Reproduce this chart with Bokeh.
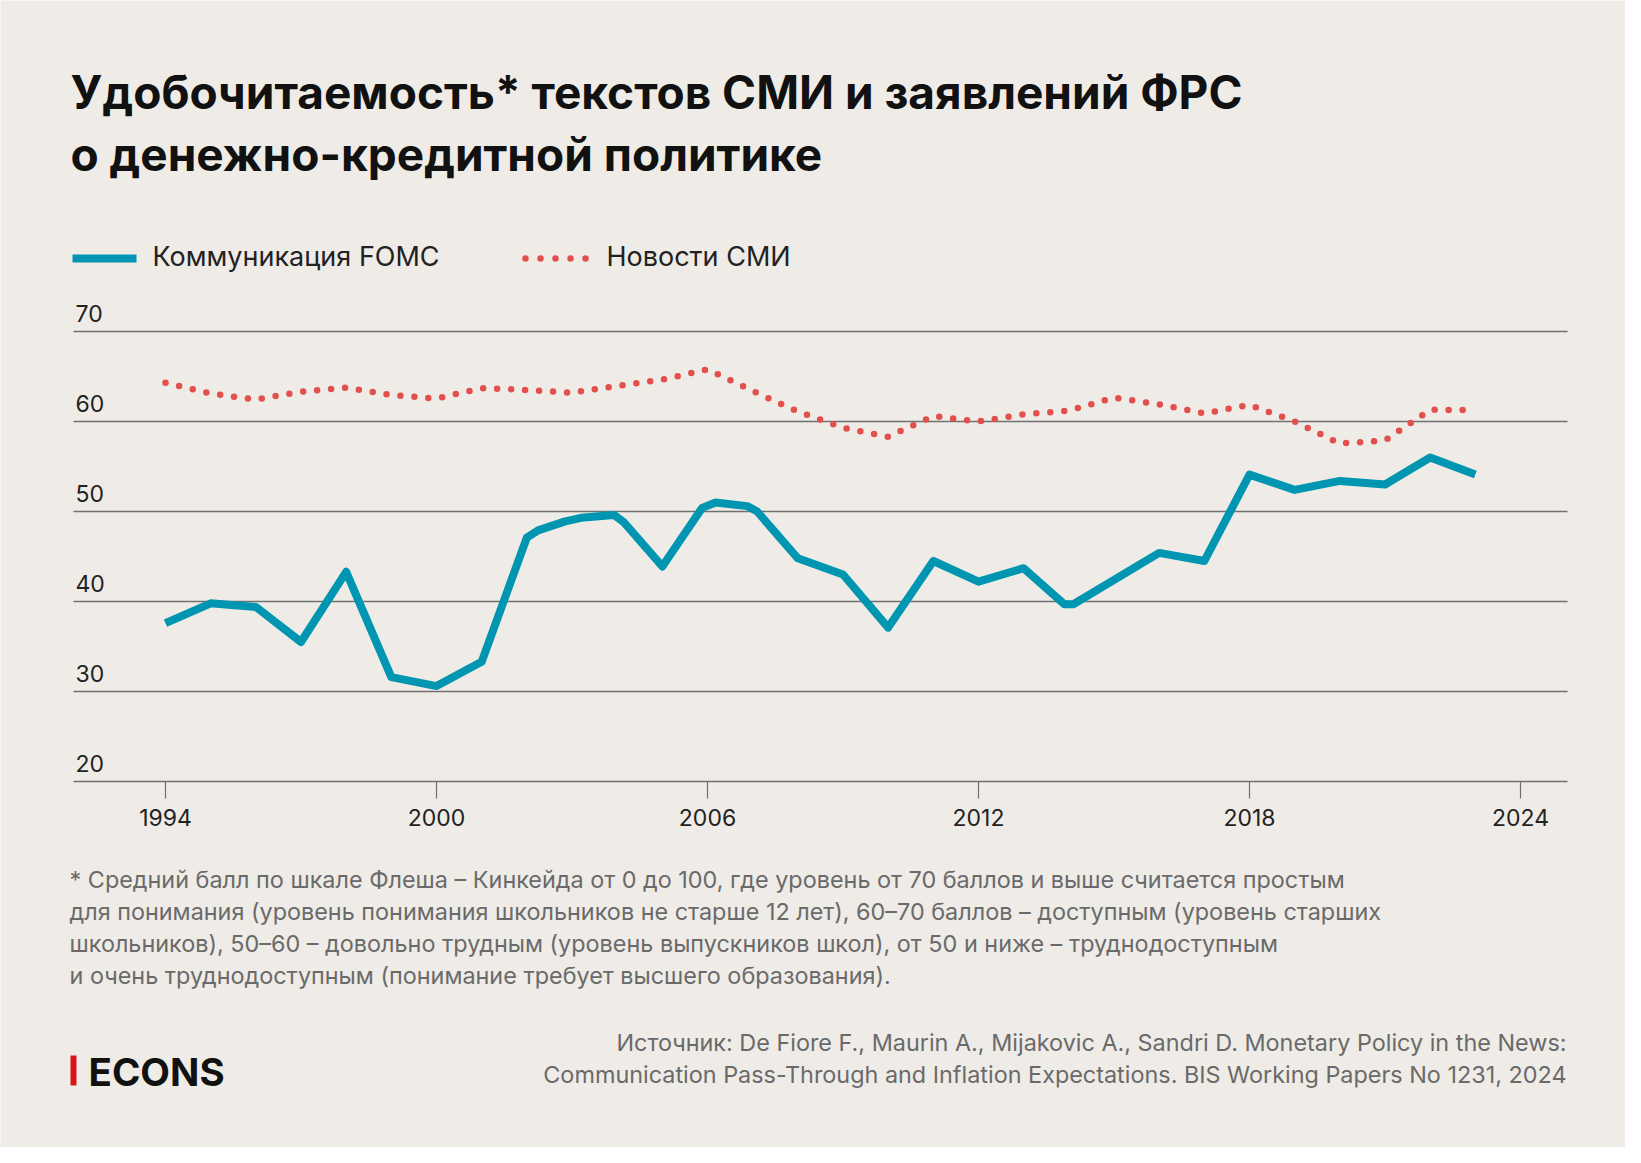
from bokeh.plotting import figure
from bokeh.models import Range1d, Label
from bokeh.core.properties import value
from bokeh.embed import file_html
from bokeh.resources import INLINE

# ---------------- data ----------------
fomc_years = [1994, 1995, 1996, 1997, 1998, 1999, 2000, 2001, 2002, 2002.25, 2002.85,
              2003.2, 2003.93, 2004.15, 2005, 2005.88, 2006.18, 2006.88, 2007.1, 2008,
              2009, 2010, 2011, 2012, 2013, 2013.9, 2014.1, 2016, 2017, 2018, 2019,
              2020, 2021, 2022, 2023]
fomc_values = [37.6, 39.8, 39.4, 35.5, 43.3, 31.6, 30.6, 33.3, 47.1, 47.9, 48.9,
               49.3, 49.6, 48.8, 43.9, 50.4, 51.0, 50.6, 50.0, 44.8,
               43.0, 37.1, 44.5, 42.2, 43.7, 39.7, 39.7, 45.4, 44.5, 54.1, 52.4,
               53.4, 53.0, 56.0, 54.1]

news_years = list(range(1994, 2024))
news_values = [64.3, 63.1, 62.45, 63.3, 63.75, 62.95, 62.55, 63.7, 63.5, 63.2,
               63.95, 64.65, 65.8, 63.4, 61.1, 59.3, 58.3, 60.6, 60.0, 60.8,
               61.2, 62.65, 61.9, 60.9, 61.85, 60.0, 57.55, 57.9, 61.3, 61.25]

y_ticks = [20, 30, 40, 50, 60, 70]
x_ticks = [1994, 2000, 2006, 2012, 2018, 2024]

title_lines = ["Удобочитаемость* текстов СМИ и заявлений ФРС",
               "о денежно-кредитной политике"]
legend_labels = ["Коммуникация FOMC", "Новости СМИ"]
note_lines = [
    "* Средний балл по шкале Флеша – Кинкейда от 0 до 100, где уровень от 70 баллов и выше считается простым",
    "для понимания (уровень понимания школьников не старше 12 лет), 60–70 баллов – доступным (уровень старших",
    "школьников), 50–60 – довольно трудным (уровень выпускников школ), от 50 и ниже – труднодоступным",
    "и очень труднодоступным (понимание требует высшего образования).",
]
source_lines = [
    "Источник: De Fiore F., Maurin A., Mijakovic A., Sandri D. Monetary Policy in the News:",
    "Communication Pass-Through and Inflation Expectations. BIS Working Papers No 1231, 2024",
]
brand = "ECONS"

# ---------------- layout (pixels) ----------------
W, H = 1625, 1147
FL, FR, FT, FB = 73, 1567, 331, 781          # plot area
PX_1994, PX_2024 = 165, 1520
PXY = (PX_2024 - PX_1994) / 30.0            # px per year
Y_TOP, Y_BOT = 70, 20
PXU = (FB - FT) / (Y_TOP - Y_BOT)           # px per unit
BASE_FIX = 0.36                             # baseline correction (x font size)


def dx(px):
    return 1994 + (px - PX_1994) / PXY


def dy(py):
    return Y_TOP - (py - FT) / PXU


BG = "#efece7"
BLUE = "#0096b1"
RED = "#e2504d"
GRID = "#707070"
INK = "#111111"
TXT = "#222222"
GREY = "#6a6a6a"
FONT = "Inter"

p = figure(width=W, height=H, x_range=Range1d(dx(0), dx(W)), y_range=Range1d(dy(H), dy(0)),
           output_backend="svg", toolbar_location=None,
           x_axis_location=None, y_axis_location=None,
           min_border=0)
p.background_fill_color = BG
p.border_fill_color = BG
p.outline_line_color = None
p.grid.visible = False

x_left, x_right = dx(FL), dx(FR)

# horizontal gridlines
p.segment(x0=[x_left] * len(y_ticks), x1=[x_right] * len(y_ticks), y0=y_ticks, y1=y_ticks,
          line_color=GRID, line_width=1.3)
# y tick labels above gridlines
p.text(x=[dx(FL + 2)] * len(y_ticks), y=y_ticks, text=[str(v) for v in y_ticks],
       y_offset=-9.5 - BASE_FIX * 23, text_baseline="alphabetic", text_align="left",
       text_font=value(FONT), text_font_size="23px", text_color=TXT)

# x ticks + labels
p.segment(x0=x_ticks, x1=x_ticks, y0=[Y_BOT] * len(x_ticks), y1=[dy(FB + 17)] * len(x_ticks),
          line_color=GRID, line_width=1.2)
p.text(x=x_ticks, y=[dy(825 - BASE_FIX * 23)] * len(x_ticks), text=[str(v) for v in x_ticks],
       text_baseline="alphabetic", text_align="center",
       text_font=value(FONT), text_font_size="23px", text_color=TXT)

# series
p.line(news_years, news_values, line_color=RED, line_width=6.5, line_dash="0 14",
       line_cap="round")
p.line(fomc_years, fomc_values, line_color=BLUE, line_width=8, line_join="round")


def label(px, py, text, size, color, bold=False, align="left"):
    py = py - BASE_FIX * size
    p.add_layout(Label(x=dx(px), y=dy(py), text=text, text_font=FONT,
                       text_font_size=f"{size}px", text_color=color,
                       text_font_style="bold" if bold else "normal",
                       text_align=align, text_baseline="alphabetic"))


# title
label(70, 108, title_lines[0], 46, INK, bold=True)
label(70, 170, title_lines[1], 46, INK, bold=True)

# legend
p.line([dx(72), dx(136)], [dy(258), dy(258)], line_color=BLUE, line_width=8, line_cap="butt")
label(152, 266, legend_labels[0], 27, TXT)
p.line([dx(525), dx(588)], [dy(258), dy(258)], line_color=RED, line_width=6.5,
       line_dash="0 15", line_cap="round")
label(606, 266, legend_labels[1], 27, TXT)

# footnote
for i, t in enumerate(note_lines):
    label(69, 887 + 32 * i, t, 23.4, GREY)

# source
for i, t in enumerate(source_lines):
    label(1566, 1050 + 32 * i, t, 23.4, GREY, align="right")

# brand
p.line([dx(73), dx(73)], [dy(1055), dy(1085)], line_color="#d7141a", line_width=6,
       line_cap="butt")
label(88, 1085, brand, 38.5, INK, bold=True)

open("out.html", "w").write(file_html(p, INLINE))
